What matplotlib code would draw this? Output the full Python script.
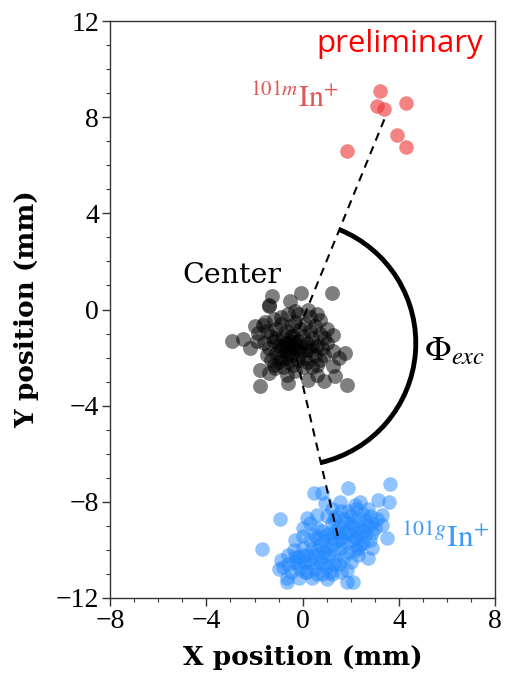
import numpy as np
import matplotlib
matplotlib.use("Agg")
import matplotlib.pyplot as plt
from matplotlib.patches import Arc
from matplotlib.ticker import MultipleLocator

plt.rcParams['font.family'] = ['Liberation Serif', 'DejaVu Serif']
plt.rcParams['mathtext.fontset'] = 'stix'

# ---- data ----
center_x = [-1.28, -1.39, -0.06, 1.21, -0.52, -0.31, 0.24, -1.56, -1.97, -2.94, -2.46, -2.18, -1.90,
            0.73, 1.28, 1.28, 1.77, 1.49, 1.28, 1.35, 1.84, 0.87, 0.59, 0.24, -0.59, -1.79, -1.77,
            -1.38, -1.14, -0.66, -0.31, -1.84, -1.63, -1.42,
            -1.5, -1.3, -1.1, -0.9, -0.7, -0.5, -0.3, -0.1, 0.1, 0.3, 0.5, 0.7, 0.9, 1.0,
            -1.6, -1.4, -1.2, -1.0, -0.8, -0.6, -0.4, -0.2, 0.0, 0.2, 0.4, 0.6, 0.8, 1.0,
            -1.5, -1.3, -1.1, -0.9, -0.7, -0.5, -0.3, -0.1, 0.1, 0.3, 0.5, 0.7, 0.9,
            -1.2, -1.0, -0.8, -0.6, -0.4, -0.2, 0.0, 0.2, 0.4, 0.6,
            -0.9, -0.6, -0.2, 0.3, 0.6, -1.2,
            -0.7, -0.5, -0.4, -0.6, -0.8, -0.3, -0.2, -0.9, -0.1, -0.5, -1.1, 0.2, 0.4, -0.7]
center_y = [0.58, 0.17, 0.67, 0.67, 0.35, -0.07, 0.00, -0.54, -0.69, -1.32, -1.22, -1.60, -1.32,
            -0.42, -1.04, -1.74, -1.80, -2.01, -2.36, -2.78, -3.12, -2.99, -2.71, -2.92, -3.05, -2.50, -3.20,
            -2.64, -2.43, -2.71, -2.57, -0.97, -0.63, 0.14,
            -0.9, -1.1, -0.8, -0.6, -0.9, -0.7, -0.5, -0.8, -0.6, -0.9, -0.7, -1.0, -1.2, -0.8,
            -1.4, -1.6, -1.3, -1.5, -1.2, -1.4, -1.1, -1.3, -1.1, -1.4, -1.2, -1.5, -1.6, -1.4,
            -1.9, -2.1, -1.8, -2.0, -1.7, -1.9, -1.6, -1.8, -2.0, -1.7, -1.9, -2.1, -1.9,
            -2.3, -2.2, -2.4, -2.2, -2.3, -2.1, -2.4, -2.2, -2.4, -2.3,
            -0.3, -0.2, -0.2, -0.3, -0.2, -0.4,
            -1.4, -1.3, -1.6, -1.8, -1.5, -1.4, -1.7, -1.7, -1.5, -1.1, -1.2, -1.7, -1.5, -2.0]

m_x = [3.22, 3.08, 3.36, 4.29, 3.92, 4.30, 1.86]
m_y = [9.10, 8.45, 8.36, 8.58, 7.25, 6.78, 6.58]

g_x = [3.61, 1.90, 0.48, 0.80, 3.15, 3.57, 1.56, 2.18, 0.94, -0.94, 0.17, 0.59, 3.29, 3.50, 3.29,
       -1.70, 0.03, -0.38, -0.31, -0.80, -0.66, -0.17, 0.38, 1.14, 1.84, 1.84, 2.11, 2.73, 2.88, -0.66,
       -0.5, -0.2, 0.1, 0.6, 0.9, 1.5, 2.3, 2.5, 2.9, 3.1, 2.7, 2.4, 1.2, 1.0, 0.6, 0.3, 0.0, -0.2,
       1.4, 1.7, 2.0, 2.3, 2.6, 2.9, 1.2, 1.5, 1.8, 2.1, 2.4, 2.7, 3.0, 1.1, 1.4, 1.7, 2.0, 2.3, 2.6, 2.8,
       0.6, 0.9, 1.2, 1.5, 1.8, 2.1, 2.4, 0.4, 0.7, 1.0, 1.3, 1.6, 1.9, 2.2, 0.2, 0.5, 0.8, 1.1, 1.4, 1.7,
       0.1, 0.4, 0.7, 1.0, 1.3, -0.1, 0.2, 0.5, 0.8, 1.2, 1.5, 1.9, 2.2, 0.9, 1.2, 0.6, 1.6, 2.5, 2.0,
       0.3, -0.3, 0.0, 1.0, 0.8, 0.5, 1.3, 1.6, 1.9, 2.2, 2.5, 2.8, 0.3, 0.0, -0.3, -0.6, -0.9, -1.0,
       -0.6, 2.0, 1.6, 1.0, 2.3]
g_y = [-7.25, -7.43, -7.64, -7.64, -7.92, -7.99, -7.99, -8.13, -8.05, -8.72, -8.68, -8.54, -8.54, -9.51, -8.96,
       -9.97, -9.44, -10.00, -10.28, -10.69, -11.18, -11.18, -11.18, -10.90, -10.83, -11.32, -11.32, -10.35, -9.93, -11.32,
       -10.9, -10.6, -10.9, -11.0, -10.6, -10.6, -10.2, -9.7, -9.3, -8.7, -8.3, -8.0, -8.3, -8.6, -9.1, -9.6, -9.9, -10.3,
       -8.6, -8.7, -8.6, -8.7, -8.8, -8.9, -8.9, -9.0, -8.9, -9.0, -9.1, -9.0, -9.1, -9.3, -9.2, -9.3, -9.4, -9.3, -9.4, -9.6,
       -9.5, -9.6, -9.5, -9.6, -9.7, -9.6, -9.8, -9.9, -9.8, -9.9, -10.0, -9.9, -10.1, -10.0, -10.2, -10.2, -10.3, -10.2, -10.4, -10.3,
       -10.5, -10.6, -10.5, -10.7, -10.6, -10.8, -10.9, -10.8, -11.0, -11.0, -9.3, -9.2, -9.5, -10.1, -9.8, -10.0, -9.5, -9.2, -8.9,
       -10.4, -10.5, -10.2, -9.4, -9.2, -9.4, -8.7, -8.4, -8.4, -8.3, -8.5, -8.6, -8.9, -9.1, -9.6, -10.2, -10.4, -10.8,
       -10.6, -10.5, -10.9, -11.2, -9.9]

# reference positions (cluster centres) and arc radius
center_pos = (-0.4, -1.4)
m_pos = (3.43, 8.0)
g_pos = (1.5, -9.6)
arc_radius = 5.1

# ---- figure ----
fig = plt.figure(figsize=(5.10, 6.78), dpi=100)
ax = fig.add_axes([0.216, 0.118, 0.755, 0.851])

ax.scatter(center_x, center_y, s=115, color='black', alpha=0.5, linewidths=0, zorder=2)
ax.scatter(m_x, m_y, s=110, color='#ee3333', alpha=0.6, linewidths=0, zorder=2)
ax.scatter(g_x, g_y, s=110, color='#2288ff', alpha=0.5, linewidths=0, zorder=2)

ax.plot([center_pos[0], m_pos[0]], [center_pos[1], m_pos[1]], ls=(0, (4, 3)), color='black', lw=1.5, zorder=3)
ax.plot([center_pos[0], g_pos[0]], [center_pos[1], g_pos[1]], ls=(0, (4, 3)), color='black', lw=1.5, zorder=3)

th_m = np.degrees(np.arctan2(m_pos[1] - center_pos[1], m_pos[0] - center_pos[0]))
th_g = np.degrees(np.arctan2(g_pos[1] - center_pos[1], g_pos[0] - center_pos[0]))
ax.add_patch(Arc(center_pos, 2 * arc_radius, 2 * arc_radius, theta1=th_g, theta2=th_m,
                 color='black', lw=3.5, zorder=3))

ax.text(7.5, 11.05, 'preliminary', color='red', fontsize=22.5, family=['Open Sans', 'DejaVu Sans'],
        ha='right', va='center')
ax.text(-2.2, 8.8, r'$^{101m}\mathrm{In}^{+}$', color='#e05555', fontsize=21.5, ha='left', va='center')
ax.text(-5.0, 1.4, 'Center', color='black', fontsize=20.5, family=['DejaVu Serif'], ha='left', va='center')
ax.text(5.05, -1.75, r'$\Phi_{exc}$', color='black', fontsize=25, ha='left', va='center')
ax.text(4.1, -9.6, r'$^{101g}\mathrm{In}^{+}$', color='#3d9af5', fontsize=22.5, ha='left', va='center')

ax.set_xlim(-8, 8)
ax.set_ylim(-12, 12)
ax.xaxis.set_major_locator(MultipleLocator(4))
ax.yaxis.set_major_locator(MultipleLocator(4))
ax.xaxis.set_minor_locator(MultipleLocator(1))
ax.yaxis.set_minor_locator(MultipleLocator(1))
ax.tick_params(which='major', direction='out', length=6, width=1.0, labelsize=20, pad=2, color='#333333')
ax.tick_params(which='minor', direction='out', length=3, width=0.8, color='#333333')
for sp in ax.spines.values():
    sp.set_color('#333333')
    sp.set_linewidth(1.0)

ax.set_xlabel('X position (mm)', fontsize=19, fontweight='bold', family=['DejaVu Serif'], labelpad=8)
ax.set_ylabel('Y position (mm)', fontsize=19, fontweight='bold', family=['DejaVu Serif'], labelpad=12)

fig.savefig('out.png', dpi=100)
